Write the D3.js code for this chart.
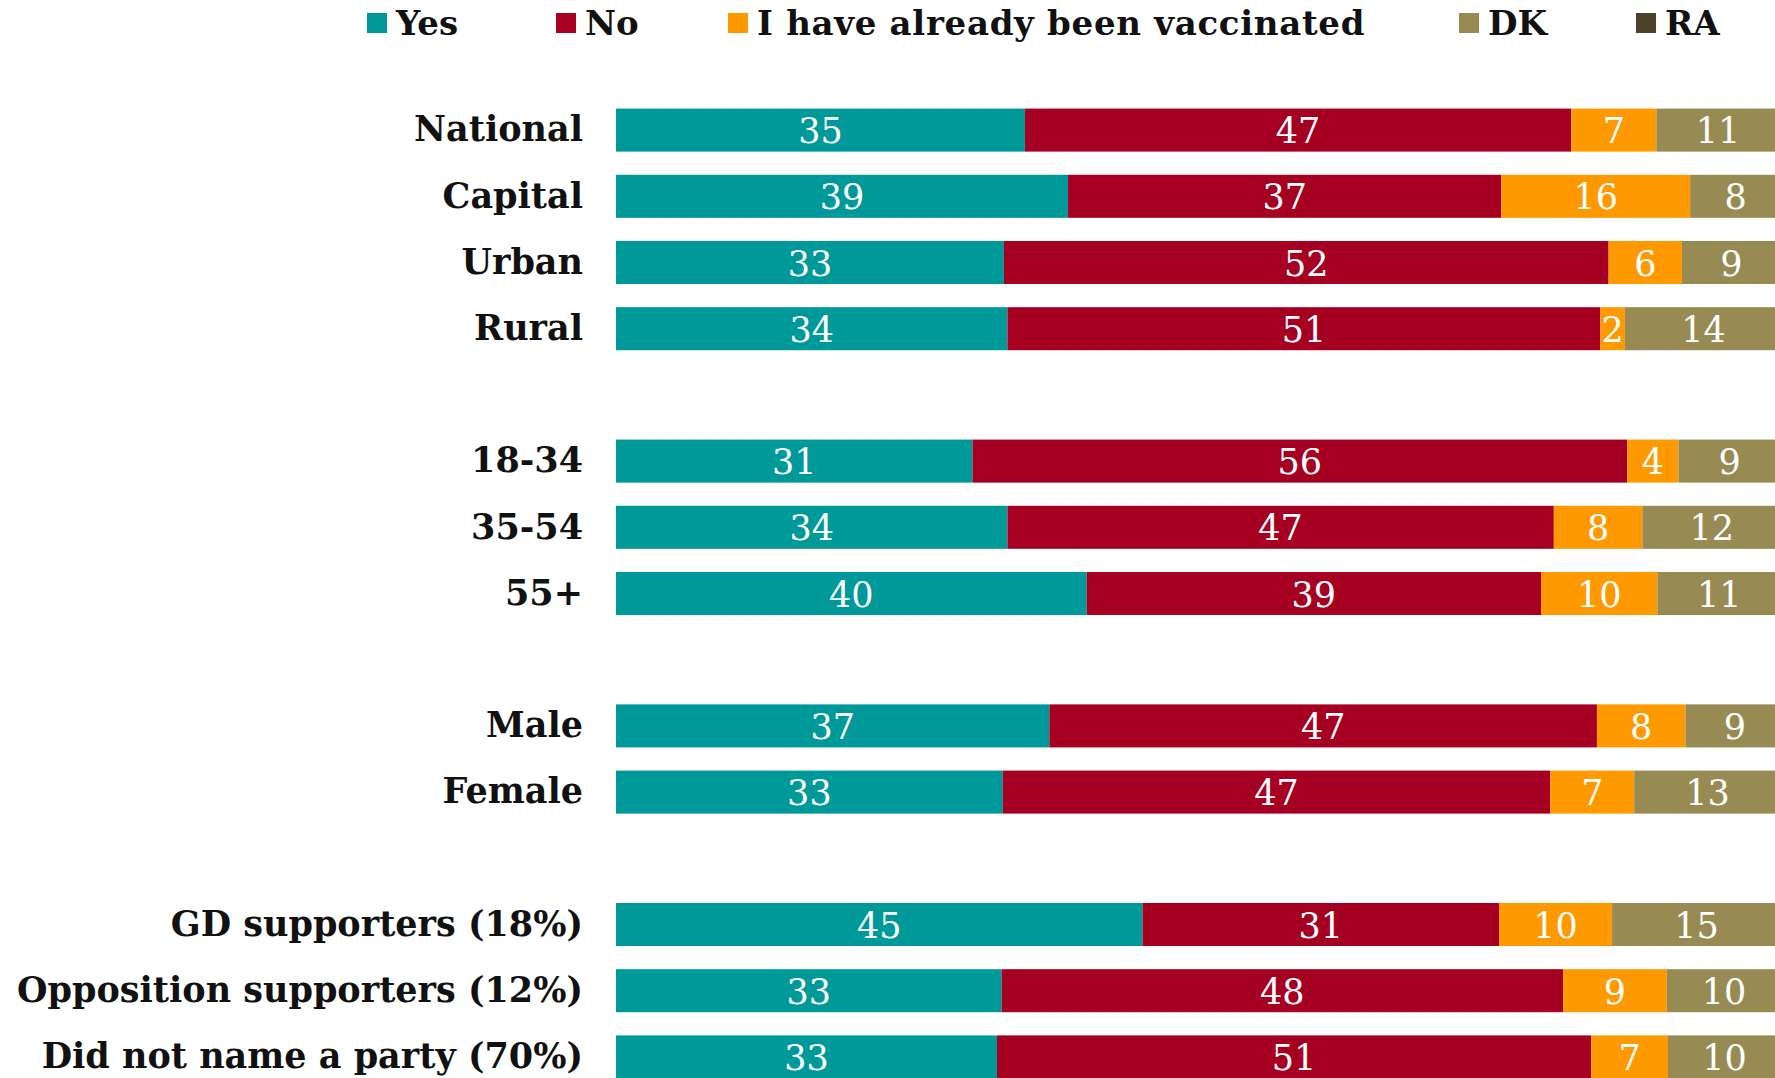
<!DOCTYPE html>
<html>
<head>
<meta charset="utf-8">
<script src="https://cdn.jsdelivr.net/npm/d3@7"></script>
<style>
  html, body { margin: 0; padding: 0; background: #fff; overflow: hidden; }
  svg { display: block; }
</style>
</head>
<body>
<svg id="chart" width="1775" height="1078"></svg>
<script>
// ---- Data ----
const categories = [
  "National", "Capital", "Urban", "Rural", "",
  "18-34", "35-54", "55+", " ",
  "Male", "Female", "  ",
  "GD supporters (18%)", "Opposition supporters (12%)", "Did not name a party (70%)"
];
const seriesNames = ["Yes", "No", "I have already been vaccinated", "DK", "RA"];
const yesValues  = [35.1, 38.8, 33.3, 33.6, null, 30.6, 33.6, 40.4, null, 37.2, 33.2, null, 45.2, 33.1, 32.7];
const noValues   = [46.9, 37.2, 51.9, 50.9, null, 56.2, 46.9, 39.0, null, 47.0, 47.0, null, 30.6, 48.2, 51.0];
const vaccValues = [7.3, 16.2, 6.3, 2.1, null, 4.4, 7.6, 10.0, null, 7.6, 7.2, null, 9.7, 8.9, 6.6];
const dkValues   = [10.6, 7.8, 8.5, 13.5, null, 8.8, 11.9, 10.6, null, 8.5, 12.6, null, 14.5, 9.8, 9.7];
const raValues   = [0.1, 0.0, 0.0, 0.0, null, 0.0, 0.0, 0.0, null, 0.0, 0.0, null, 0.0, 0.0, 0.0];
const colors = ["#009999", "#A50021", "#FF9900", "#978B53", "#4B432A"];

// ---- Build table ----
const allSeries = [yesValues, noValues, vaccValues, dkValues, raValues];
const rows = categories.map((c, i) => {
  const r = { key: "k" + i, name: c, blank: yesValues[i] === null };
  seriesNames.forEach((s, j) => r[s] = allSeries[j][i] || 0);
  return r;
});

const svg = d3.select("#chart");
const x = d3.scaleLinear().domain([0, 100]).range([616, 1781]);
const y = d3.scaleBand().domain(rows.map(r => r.key)).range([97, 1090])
  .paddingInner(0.35).paddingOuter(0.175);

const stack = d3.stack().keys(seriesNames);
const stacked = stack(rows.filter(r => !r.blank));

const serif = "'DejaVu Serif', serif";

const layer = svg.append("g").selectAll("g").data(stacked).join("g")
  .attr("fill", (d, i) => colors[i]);

layer.selectAll("rect").data(d => d).join("rect")
  .attr("x", d => x(d[0]))
  .attr("width", d => Math.max(0, x(d[1]) - x(d[0])))
  .attr("y", d => y(d.data.key))
  .attr("height", y.bandwidth());

// value labels
const labels = svg.append("g");
stacked.forEach((s, si) => {
  s.forEach(d => {
    const v = d[1] - d[0];
    if (v < 1.5) return;
    labels.append("text")
      .attr("x", (x(d[0]) + x(d[1])) / 2)
      .attr("y", y(d.data.key) + y.bandwidth() / 2 + 1)
      .attr("text-anchor", "middle")
      .attr("dominant-baseline", "central")
      .attr("fill", "#fff")
      .style("font-family", serif)
      .style("font-size", "35px")
      .text(Math.round(v));
  });
});

// category axis
const yAxis = d3.axisLeft(y).tickSize(0).tickPadding(0)
  .tickFormat(k => rows.find(r => r.key === k).name);
const ag = svg.append("g").attr("transform", "translate(583,0)").call(yAxis);
ag.select(".domain").remove();
ag.selectAll("text")
  .attr("fill", "#111")
  .style("font-family", serif)
  .style("font-weight", "bold")
  .style("font-size", "35px");

// legend
const legendX = [367, 556, 728, 1459, 1636];
const lg = svg.append("g");
seriesNames.forEach((s, i) => {
  const g = lg.append("g").attr("transform", `translate(${legendX[i]},0)`);
  g.append("rect").attr("x", 0).attr("y", 13).attr("width", 20).attr("height", 20).attr("fill", colors[i]);
  g.append("text").attr("x", 29).attr("y", 23)
    .attr("dominant-baseline", "central")
    .attr("fill", "#111")
    .style("font-family", serif)
    .style("font-weight", "bold")
    .style("font-size", "34px")
    .style("letter-spacing", i === 2 ? "0.7px" : "0px")
    .text(s);
});
</script>
</body>
</html>
